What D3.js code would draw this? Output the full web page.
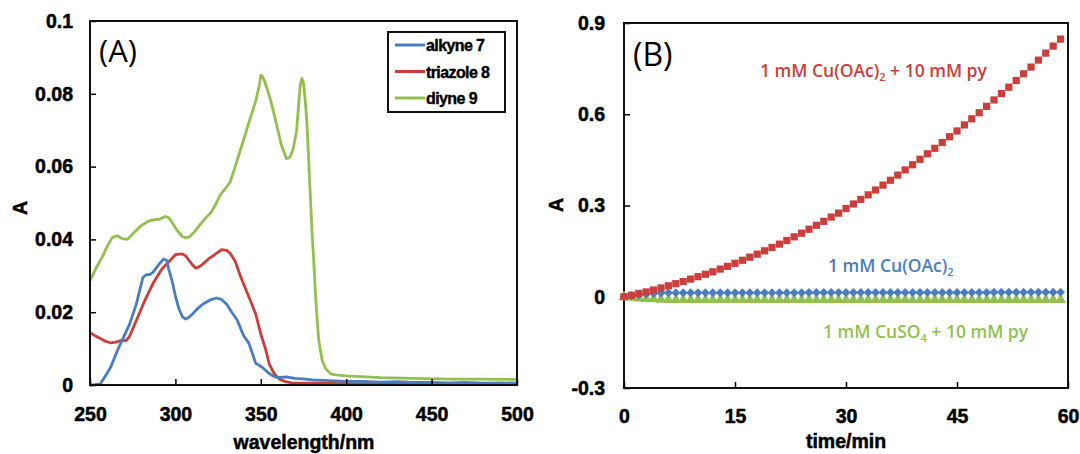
<!DOCTYPE html>
<html>
<head>
<meta charset="utf-8">
<script src="https://cdn.jsdelivr.net/npm/d3@7"></script>
<style>
  body { margin: 0; background: #fff; }
  svg text { font-family: "Liberation Sans", Arial, sans-serif; }
  .tick text { font-weight: bold; font-size: 19.5px; fill: #000; stroke: #000; stroke-width: 0.5px; }
  .title { font-weight: bold; font-size: 19.5px; stroke: #000; stroke-width: 0.5px; }
  .note { font-family: "Open Sans", sans-serif !important; font-size: 17.5px; }
</style>
</head>
<body>
<svg id="vis-svg"></svg>
<script>
/* panel A: absorption spectra */
const nmAlkyne = [250,253,256,259,262,266,270,273,277,281,283,285,287,289,291,293,295,296,298,300,302,304,306,308,310,313,316,320,324,327,330,333,336,340,343,347,351,354,357,360,365,370,375,380,390,400,410,420,430,440,450,460,470,480,490,500];
const absAlkyne = [0.0000,0.0001,0.0003,0.0025,0.0048,0.0094,0.0135,0.0165,0.0220,0.0296,0.0303,0.0303,0.0310,0.0323,0.0335,0.0346,0.0342,0.0320,0.0287,0.0245,0.0210,0.0188,0.0181,0.0186,0.0195,0.0210,0.0222,0.0233,0.0239,0.0235,0.0222,0.0200,0.0180,0.0135,0.0115,0.0060,0.0048,0.0035,0.0025,0.0020,0.0022,0.0018,0.0017,0.0014,0.0012,0.0010,0.0010,0.0008,0.0009,0.0007,0.0007,0.0006,0.0007,0.0005,0.0006,0.0005];

const nmTriazole = [250,253,256,259,262,265,268,271,273,277,282,287,292,296,300,304,306,308,310,312,314,316,319,322,325,327,330,332,335,338,341,344,347,350,353,355,358,361,364,368,375,385,400,420,440,460,480,500];
const absTriazole = [0.0144,0.0135,0.0128,0.0120,0.0116,0.0118,0.0122,0.0122,0.0132,0.0176,0.0231,0.0280,0.0318,0.0338,0.0358,0.0360,0.0355,0.0342,0.0330,0.0321,0.0325,0.0332,0.0345,0.0355,0.0365,0.0372,0.0370,0.0362,0.0340,0.0300,0.0265,0.0231,0.0195,0.0140,0.0095,0.0057,0.0030,0.0016,0.0010,0.0006,0.0005,0.0005,0.0004,0.0004,0.0004,0.0003,0.0004,0.0003];

const nmDiyne = [250,254,257,260,263,266,269,272,276,280,284,288,291,294,296,298,301,304,306,308,311,314,317,321,324,326,329,332,335,338,341,344,347,349,350,351,352,354,356,358,360,362,365,367,369,371,372,373,374,375,376,377,378,379,380,381,382,383,384,386,388,391,395,400,420,440,460,480,500];
const absDiyne = [0.0287,0.0325,0.0350,0.0380,0.0405,0.0410,0.0402,0.0400,0.0420,0.0438,0.0450,0.0454,0.0456,0.0463,0.0460,0.0447,0.0425,0.0408,0.0405,0.0406,0.0420,0.0438,0.0455,0.0475,0.0500,0.0520,0.0538,0.0557,0.0600,0.0645,0.0690,0.0736,0.0780,0.0820,0.0851,0.0848,0.0837,0.0810,0.0778,0.0740,0.0700,0.0660,0.0622,0.0625,0.0650,0.0700,0.0760,0.0820,0.0842,0.0830,0.0782,0.0720,0.0620,0.0520,0.0420,0.0340,0.0250,0.0180,0.0120,0.0066,0.0045,0.0030,0.0027,0.0025,0.0020,0.0018,0.0016,0.0016,0.0015];

const seriesNamesA = ["alkyne 7", "triazole 8", "diyne 9"];
const xTicksA = [250, 300, 350, 400, 450, 500];
const yTicksA = [0, 0.02, 0.04, 0.06, 0.08, 0.1];

/* panel B: kinetics, one point per minute */
const timeMin = d3.range(0, 60);
const absPy = [0,0.005,0.011,0.016,0.022,0.029,0.036,0.043,0.050,0.058,0.066,0.074,0.082,0.091,0.100,0.110,0.120,0.130,0.140,0.151,0.162,0.173,0.185,0.197,0.209,0.222,0.235,0.248,0.262,0.275,0.290,0.305,0.320,0.335,0.351,0.367,0.383,0.400,0.417,0.434,0.452,0.470,0.488,0.507,0.526,0.545,0.565,0.585,0.605,0.626,0.647,0.668,0.689,0.711,0.733,0.755,0.778,0.801,0.824,0.847];
const absOAc = [0,0.003,0.006,0.009,0.011,0.012,0.013,0.013,0.013,0.013,0.013,0.013,0.013,0.013,0.013,0.013,0.013,0.013,0.013,0.013,0.013,0.013,0.013,0.013,0.013,0.014,0.014,0.014,0.014,0.014,0.014,0.014,0.014,0.014,0.014,0.014,0.014,0.014,0.014,0.014,0.014,0.014,0.014,0.014,0.014,0.014,0.014,0.014,0.014,0.014,0.015,0.015,0.015,0.015,0.015,0.015,0.015,0.015,0.015,0.015];
const absSO4 = [0,-0.003,-0.005,-0.007,-0.008,-0.009,-0.010,-0.010,-0.010,-0.010,-0.010,-0.010,-0.010,-0.010,-0.010,-0.010,-0.010,-0.010,-0.010,-0.010,-0.010,-0.010,-0.010,-0.010,-0.010,-0.010,-0.010,-0.010,-0.010,-0.010,-0.010,-0.010,-0.010,-0.010,-0.010,-0.010,-0.010,-0.010,-0.010,-0.010,-0.010,-0.010,-0.010,-0.010,-0.010,-0.010,-0.010,-0.010,-0.010,-0.010,-0.010,-0.010,-0.010,-0.010,-0.010,-0.010,-0.010,-0.010,-0.010,-0.010];
const xTicksB = [0, 15, 30, 45, 60];
const yTicksB = [-0.3, 0, 0.3, 0.6, 0.9];

const blue = "#4a7dc0", red = "#cc3e3b", green = "#93bf50";

let svg = d3.select("#vis-svg")
    .attr("width", 1080)
    .attr("height", 454);

// draws axes with inward ticks + frame
function drawFrame(x, y, xTicks, yTicks, fmtY, padY, padX) {
    let g = svg.append("g");
    let [x0, x1] = x.range(), [y0, y1] = y.range();

    g.append("g")
        .attr("class", "yAxis")
        .attr("transform", `translate(${x0},0)`)
        .call(d3.axisLeft(y).tickValues(yTicks).tickFormat(fmtY).tickSizeInner(-6).tickSizeOuter(0).tickPadding(padY))
        .call(a => a.select(".domain").remove());

    g.append("g")
        .attr("class", "xAxis")
        .attr("transform", `translate(0,${y0})`)
        .call(d3.axisBottom(x).tickValues(xTicks).tickSizeInner(-6).tickSizeOuter(0).tickPadding(padX))
        .call(a => a.select(".domain").remove());

    g.selectAll(".tick line").attr("stroke", "#000").attr("stroke-width", 1.5);

    g.append("rect")
        .attr("x", x0).attr("y", y1)
        .attr("width", x1 - x0).attr("height", y0 - y1)
        .attr("fill", "none").attr("stroke", "#111").attr("stroke-width", 2);
}

/* ---- panel A ---- */
let xA = d3.scaleLinear().domain([250, 500]).range([90, 517]);
let yA = d3.scaleLinear().domain([0, 0.1]).range([385, 21]);

let line = d3.line().x(d => xA(d[0])).y(d => yA(d[1]));
let spectra = [
    { name: seriesNamesA[0], color: blue, pts: d3.zip(nmAlkyne, absAlkyne) },
    { name: seriesNamesA[1], color: red, pts: d3.zip(nmTriazole, absTriazole) },
    { name: seriesNamesA[2], color: green, pts: d3.zip(nmDiyne, absDiyne) }
];

svg.append("g").selectAll("path")
    .data(spectra.slice().reverse())
    .enter()
        .append("path")
        .attr("d", d => line(d.pts))
        .attr("fill", "none")
        .attr("stroke", d => d.color)
        .attr("stroke-width", 2.8)
        .attr("stroke-linejoin", "round");

drawFrame(xA, yA, xTicksA, yTicksA, d => d === 0 ? "0" : String(+d.toFixed(2)), 17, 22);

// legend
let legend = svg.append("g");
legend.append("rect")
    .attr("x", 388).attr("y", 32).attr("width", 117).attr("height", 80)
    .attr("fill", "#fff").attr("stroke", "#111").attr("stroke-width", 2);
spectra.forEach((s, i) => {
    let yy = 45 + i * 26.5;
    legend.append("line")
        .attr("x1", 395).attr("x2", 425).attr("y1", yy).attr("y2", yy)
        .attr("stroke", s.color).attr("stroke-width", 3);
    legend.append("text")
        .attr("x", 426).attr("y", yy + 6)
        .attr("font-weight", "bold").attr("font-size", 16)
        .attr("letter-spacing", -0.6)
        .attr("stroke", "#000").attr("stroke-width", 0.4)
        .text(s.name);
});

svg.append("text").attr("class", "note")
    .attr("x", 99).attr("y", 62)
    .style("font-size", "31px")
    .text("(A)");

svg.append("text").attr("class", "title")
    .attr("x", 304).attr("y", 449).attr("text-anchor", "middle")
    .text("wavelength/nm");
svg.append("text").attr("class", "title")
    .attr("transform", "translate(27,208) rotate(-90)").attr("text-anchor", "middle")
    .text("A");

/* ---- panel B ---- */
let xB = d3.scaleLinear().domain([0, 60]).range([624, 1068]);
let yB = d3.scaleLinear().domain([-0.3, 0.9]).range([388, 23]);

drawFrame(xB, yB, xTicksB, yTicksB, d => d === 0 ? "0" : String(+d.toFixed(1)), 19, 21);

let kinetics = [
    { vals: absSO4, color: green, shape: d3.symbolTriangle, rot: 0, size: 52 },
    { vals: absOAc, color: blue, shape: d3.symbolSquare, rot: 45, size: 40 },
    { vals: absPy, color: red, shape: d3.symbolSquare, rot: 0, size: 52 }
];

kinetics.forEach(k => {
    svg.append("g").selectAll("path")
        .data(d3.zip(timeMin, k.vals))
        .enter()
            .append("path")
            .attr("d", d3.symbol(k.shape, k.size))
            .attr("transform", d => `translate(${xB(d[0])},${yB(d[1])}) rotate(${k.rot})`)
            .attr("fill", k.color);
});

// annotation with subscript
function note(x, y, color, parts) {
    let t = svg.append("text").attr("class", "note").attr("x", x).attr("y", y)
        .attr("fill", color).attr("font-weight", 600);
    parts.forEach(p => {
        if (p.sub) {
            t.append("tspan").attr("dy", 4).attr("font-size", "11px").text(p.sub);
        } else {
            t.append("tspan").attr("dy", p.after ? -4 : 0).text(p.txt);
        }
    });
}

note(760, 77, red, [{ txt: "1 mM Cu(OAc)" }, { sub: "2" }, { txt: " + 10 mM py", after: true }]);
note(828, 272, blue, [{ txt: "1 mM Cu(OAc)" }, { sub: "2" }]);
note(823, 338, green, [{ txt: "1 mM CuSO" }, { sub: "4" }, { txt: " + 10 mM py", after: true }]);

svg.append("text").attr("class", "note")
    .attr("x", 633).attr("y", 66)
    .style("font-size", "32px")
    .text("(B)");

svg.append("text").attr("class", "title")
    .attr("x", 846).attr("y", 448).attr("text-anchor", "middle")
    .text("time/min");
svg.append("text").attr("class", "title")
    .attr("transform", "translate(563,205) rotate(-90)").attr("text-anchor", "middle")
    .text("A");
</script>
</body>
</html>
